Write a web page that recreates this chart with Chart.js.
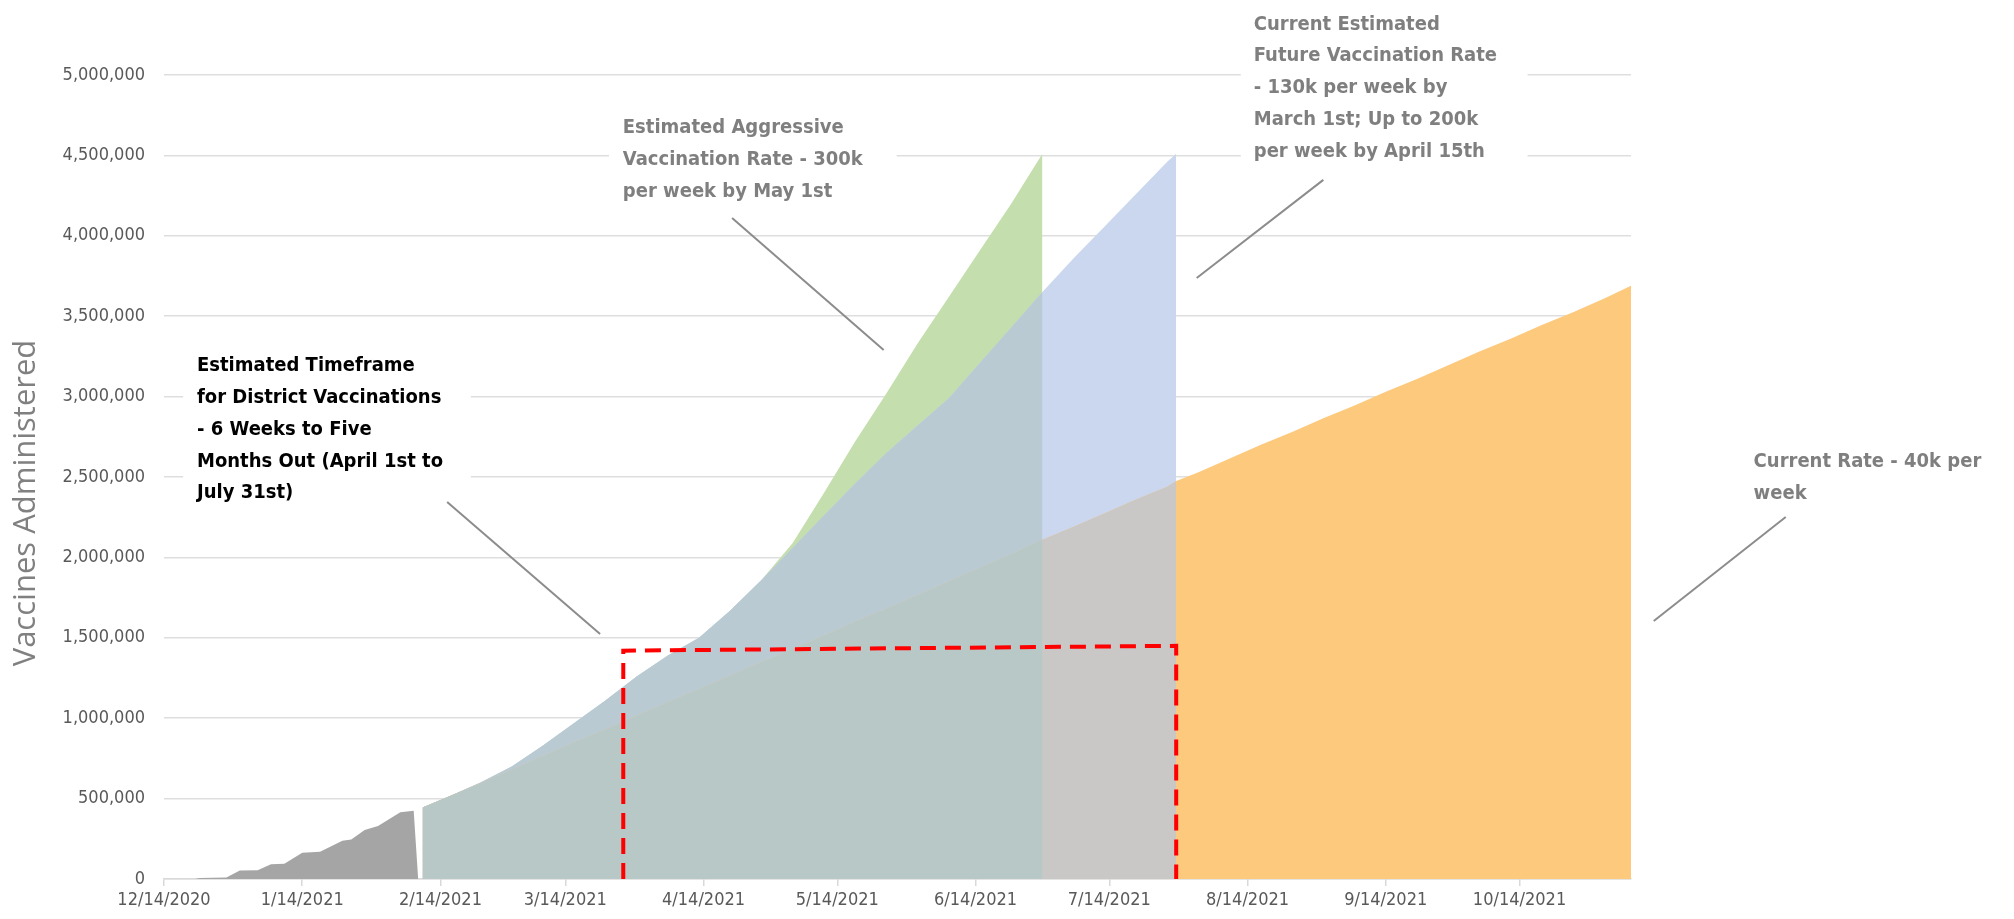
<!DOCTYPE html>
<html>
<head>
<meta charset="utf-8">
<title>Vaccines Administered</title>
<script src="https://cdn.jsdelivr.net/npm/chart.js@4.4.1/dist/chart.umd.min.js"></script>
<style>
    html, body { margin: 0; padding: 0; background: #ffffff; }
    #wrap { position: relative; width: 2014px; height: 919px; }
</style>
</head>
<body>
<div id="wrap"><canvas id="myChart"></canvas></div>
<script>
// x axis runs in days from the first date
const axisStart = '2020-12-14';
const axisEnd = '2021-11-08';

const tickDates = ['2020-12-14', '2021-01-14', '2021-02-14', '2021-03-14', '2021-04-14', '2021-05-14',
    '2021-06-14', '2021-07-14', '2021-08-14', '2021-09-14', '2021-10-14'];
const tickLabels = ['12/14/2020', '1/14/2021', '2/14/2021', '3/14/2021', '4/14/2021', '5/14/2021',
    '6/14/2021', '7/14/2021', '8/14/2021', '9/14/2021', '10/14/2021'];

// vaccines given so far (grey)
const actualDates = ['2020-12-14', '2020-12-21', '2020-12-22', '2020-12-28', '2020-12-31', '2021-01-04',
    '2021-01-07', '2021-01-10', '2021-01-14', '2021-01-18', '2021-01-23', '2021-01-25', '2021-01-28',
    '2021-01-31', '2021-02-05', '2021-02-08', '2021-02-09'];
const actualValues = [0, 0, 6000, 10000, 53000, 55000, 91000, 95000, 164000, 170000, 238000, 245000,
    304000, 330000, 415000, 425000, 0];

// projections, one point a week
const projDates = ['2021-02-10', '2021-02-16', '2021-02-23', '2021-03-02', '2021-03-09', '2021-03-16',
    '2021-03-23', '2021-03-30', '2021-04-06', '2021-04-13', '2021-04-20', '2021-04-27', '2021-05-04',
    '2021-05-11', '2021-05-18', '2021-05-25', '2021-06-01', '2021-06-08', '2021-06-15', '2021-06-22',
    '2021-06-29', '2021-07-06', '2021-07-13', '2021-07-20', '2021-07-27', '2021-07-29', '2021-08-03',
    '2021-08-10', '2021-08-17', '2021-08-24', '2021-08-31', '2021-09-07', '2021-09-14', '2021-09-21',
    '2021-09-28', '2021-10-05', '2021-10-12', '2021-10-19', '2021-10-26', '2021-11-02', '2021-11-08'];
const currentValues = [445000, 515000, 595000, 680000, 765000, 850000, 930000, 1015000, 1100000, 1180000,
    1265000, 1350000, 1430000, 1515000, 1600000, 1680000, 1765000, 1850000, 1935000, 2020000, 2110000,
    2190000, 2275000, 2360000, 2440000, 2475000, 2530000, 2615000, 2700000, 2780000, 2865000, 2945000,
    3030000, 3110000, 3195000, 3280000, 3360000, 3445000, 3525000, 3610000, 3690000];
const projectedValues = [445000, 515000, 600000, 700000, 830000, 970000, 1110000, 1260000, 1390000, 1500000,
    1670000, 1860000, 2060000, 2260000, 2460000, 2650000, 2820000, 2990000, 3210000, 3430000, 3650000,
    3860000, 4060000, 4260000, 4460000, 4510000];
const aggressiveValues = [445000, 515000, 600000, 700000, 830000, 970000, 1110000, 1260000, 1390000, 1500000,
    1670000, 1860000, 2090000, 2400000, 2720000, 3020000, 3330000, 3620000, 3910000, 4200000, 4510000];

// red dashed frame, April to July
const frameDates = ['2021-03-27', '2021-03-27', '2021-07-29', '2021-07-29'];
const frameValues = [0, 1420000, 1450000, 0];

const dayOf = d => (Date.parse(d) - Date.parse(axisStart)) / 86400000;
const toPoints = (dates, values) => values.map((v, i) => ({ x: dayOf(dates[i]), y: v }));

const aggressiveLen = aggressiveValues.length;
const projectedLen = projectedValues.length;

const tickFont = { family: '"DejaVu Sans Condensed", "Liberation Sans Narrow", "Liberation Sans", sans-serif', size: 18 };
const noteFont = 'bold 20px "DejaVu Sans Condensed", "Liberation Sans Narrow", "Liberation Sans", sans-serif';
const lineGap = 31.8;

// callouts: text left / first line in axis units, white box, leader line
const notes = [
    {
        text: ['Estimated Timeframe', 'for District Vaccinations', '- 6 Weeks to Five', 'Months Out (April 1st to', 'July 31st)'],
        color: '#000000', left: 7.4, top: 3190000,
        box: [4.3, 3352000, 68.8, 2295000],
        lead: [63.5, 2345000, 97.8, 1524000],
    },
    {
        text: ['Estimated Aggressive', 'Vaccination Rate - 300k', 'per week by May 1st'],
        color: '#7F7F7F', left: 102.9, top: 4670000,
        box: [99.8, 4813000, 164.3, 4160000],
        lead: [127.4, 4111000, 161.4, 3290000],
    },
    {
        text: ['Current Estimated', 'Future Vaccination Rate', '- 130k per week by', 'March 1st; Up to 200k', 'per week by April 15th'],
        color: '#7F7F7F', left: 244.4, top: 5315000,
        box: [241.5, 5466000, 305.8, 4378000],
        lead: [260, 4348000, 231.6, 3738000],
    },
    {
        text: ['Current Rate - 40k per', 'week'],
        color: '#7F7F7F', left: 356.5, top: 2595000,
        box: null,
        lead: [363.7, 2251000, 334.1, 1604000],
    },
];

const calloutPlugin = {
    id: 'callouts',
    afterDraw(chart) {
        const { ctx, chartArea, scales: { x, y } } = chart;
        ctx.save();
        notes.forEach(note => {
            if (note.box) {
                const x0 = x.getPixelForValue(note.box[0]);
                const y0 = y.getPixelForValue(note.box[1]);
                ctx.fillStyle = '#ffffff';
                ctx.fillRect(x0, y0, x.getPixelForValue(note.box[2]) - x0, y.getPixelForValue(note.box[3]) - y0);
            }
            ctx.font = noteFont;
            ctx.fillStyle = note.color;
            ctx.textAlign = 'left';
            ctx.textBaseline = 'middle';
            const tx = x.getPixelForValue(note.left);
            const ty = y.getPixelForValue(note.top);
            note.text.forEach((line, i) => ctx.fillText(line, tx, ty + i * lineGap));

            ctx.strokeStyle = '#8C8C8C';
            ctx.lineWidth = 2;
            ctx.beginPath();
            ctx.moveTo(x.getPixelForValue(note.lead[0]), y.getPixelForValue(note.lead[1]));
            ctx.lineTo(x.getPixelForValue(note.lead[2]), y.getPixelForValue(note.lead[3]));
            ctx.stroke();
        });

        // y axis title
        ctx.translate(26, (chartArea.top + chartArea.bottom) / 2 + 26);
        ctx.rotate(-Math.PI / 2);
        ctx.font = '31px "Open Sans", sans-serif';
        ctx.fillStyle = '#808080';
        ctx.textAlign = 'center';
        ctx.textBaseline = 'middle';
        ctx.fillText('Vaccines Administered', 0, 0);
        ctx.restore();
    },
};

const area = (label, points, color, order) => ({
    label: label,
    data: points,
    fill: 'origin',
    backgroundColor: color,
    borderColor: 'transparent',
    borderWidth: 0,
    pointRadius: 0,
    tension: 0,
    order: order,
});

const ctx = document.getElementById('myChart').getContext('2d');
new Chart(ctx, {
    type: 'line',
    data: {
        datasets: [
            {
                label: 'Timeframe',
                data: toPoints(frameDates, frameValues),
                fill: false,
                borderColor: '#FF0000',
                borderWidth: 4,
                borderDash: [16, 9],
                pointRadius: 0,
                order: 0,
            },
            area('Actual', toPoints(actualDates, actualValues), '#A5A5A5', 1),
            // overlapping layers give the blended colours of the original
            area('Current Rate (under aggressive)', toPoints(projDates, currentValues.slice(0, aggressiveLen)), '#B8C8C7', 2),
            area('Current Rate (under estimated)', toPoints(projDates, currentValues.slice(0, projectedLen)), '#C9C8C6', 3),
            area('Current Rate', toPoints(projDates, currentValues), '#FDC97D', 4),
            area('Current Estimated (under aggressive)', toPoints(projDates, projectedValues.slice(0, aggressiveLen)), '#B9CAD3', 5),
            area('Current Estimated', toPoints(projDates, projectedValues), '#CAD7EE', 6),
            area('Aggressive', toPoints(projDates, aggressiveValues), '#C4DEAE', 7),
        ],
    },
    options: {
        responsive: true,
        maintainAspectRatio: false,
        animation: false,
        layout: { padding: { top: 75, right: 383, bottom: 0, left: 0 } },
        plugins: {
            legend: { display: false },
            tooltip: { enabled: false },
        },
        scales: {
            x: {
                type: 'linear',
                min: 0,
                max: dayOf(axisEnd),
                afterBuildTicks: scale => {
                    scale.ticks = tickDates.map(d => ({ value: dayOf(d) }));
                },
                afterFit: scale => { scale.height = 40; },
                ticks: {
                    autoSkip: false,
                    maxRotation: 0,
                    padding: 4,
                    color: '#595959',
                    font: tickFont,
                    callback: (value, index) => tickLabels[index],
                },
                grid: {
                    drawOnChartArea: false,
                    drawTicks: true,
                    tickLength: 7,
                    color: '#D9D9D9',
                    lineWidth: 1.5,
                },
                border: { display: true, color: '#D9D9D9', width: 1.5 },
            },
            y: {
                min: 0,
                max: 5000000,
                z: 1,
                afterFit: scale => { scale.width = 164; },
                ticks: {
                    stepSize: 500000,
                    padding: 19,
                    color: '#595959',
                    font: tickFont,
                    callback: value => Number(value).toLocaleString('en-US'),
                },
                grid: {
                    drawTicks: false,
                    color: 'rgba(0, 0, 0, 0.13)',
                    lineWidth: 1.5,
                },
                border: { display: false },
            },
        },
    },
    plugins: [calloutPlugin],
});
</script>
</body>
</html>
